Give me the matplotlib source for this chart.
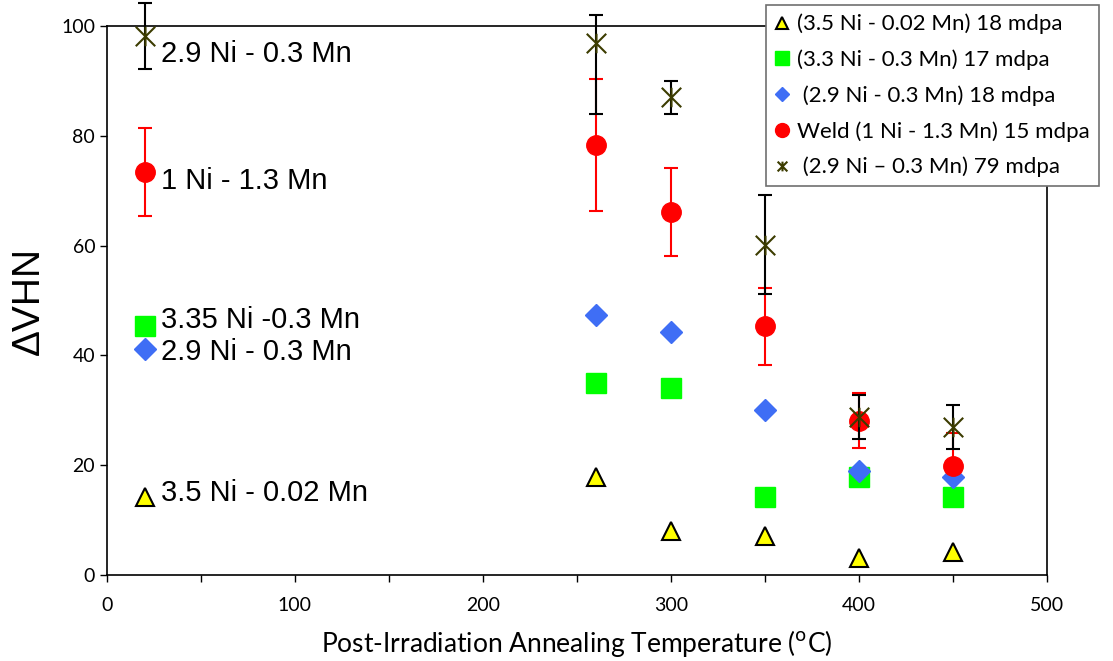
import matplotlib.pyplot as plt
from matplotlib.lines import Line2D
from matplotlib.path import Path
from matplotlib.ticker import MultipleLocator

# annealing temperatures (C); 20 = as-irradiated
temps = [20, 260, 300, 350, 400, 450]

ni35_mn002 = [14.2, 17.9, 8.0, 7.1, 3.1, 4.2]
ni33_mn03 = [45.4, 35.0, 34.1, 14.2, 17.9, 14.2]
ni29_mn03 = [41.2, 47.4, 44.3, 30.1, 19.0, 17.9]
weld = [73.4, 78.3, 66.2, 45.3, 28.1, 19.9]
weld_err = [8, 12, 8, 7, 5, 6]
ni29_79 = [98.2, 97.0, 87.0, 60.2, 28.8, 27.0]
ni29_79_err_lo = [6, 13, 3, 9, 4, 4]
ni29_79_err_hi = [6, 5, 3, 9, 4, 4]

legend_labels = [
    '(3.5 Ni - 0.02 Mn) 18 mdpa',
    '(3.3 Ni - 0.3 Mn) 17 mdpa',
    ' (2.9 Ni - 0.3 Mn) 18 mdpa',
    'Weld (1 Ni - 1.3 Mn) 15 mdpa',
    ' (2.9 Ni \u2013 0.3 Mn) 79 mdpa',
]
side_labels = ['2.9 Ni - 0.3 Mn', '1 Ni - 1.3 Mn', '3.35 Ni -0.3 Mn',
               '2.9 Ni - 0.3 Mn', '3.5 Ni - 0.02 Mn']
side_label_y = [94.9, 71.7, 46.5, 40.7, 15.0]

# excel style star: an x with a vertical stroke
star = Path([(-1, -1), (1, 1), (-1, 1), (1, -1), (0, -1), (0, 1)],
            [Path.MOVETO, Path.LINETO, Path.MOVETO, Path.LINETO,
             Path.MOVETO, Path.LINETO])
olive = '#3c3c00'

fig = plt.figure(figsize=(11.13, 6.61), dpi=100)
ax = fig.add_axes([0.0961, 0.1301, 0.8446, 0.8305])

# weld error bars sit under the other markers
ax.errorbar(temps, weld, yerr=weld_err, fmt='none', ecolor='red',
            elinewidth=1.5, capsize=5, capthick=1.5, zorder=2)

ax.plot(temps, ni35_mn002, ls='none', marker='^', ms=13, mfc='#ffff00',
        mec='black', mew=1.5, zorder=3)
ax.plot(temps, ni33_mn03, ls='none', marker='s', ms=14, mfc='#00ff00',
        mec='#00ff00', zorder=3)
ax.plot(temps, ni29_mn03, ls='none', marker='D', ms=11, mfc='#3f6ef5',
        mec='#3f6ef5', zorder=3)
ax.plot(temps, weld, ls='none', marker='o', ms=14, mfc='red', mec='red',
        zorder=4)
ax.errorbar(temps, ni29_79, yerr=[ni29_79_err_lo, ni29_79_err_hi], ls='none',
            marker=star, ms=14, mfc='none', mec=olive, mew=1.5,
            ecolor='black', elinewidth=1.5, capsize=5, capthick=1.5,
            zorder=5, clip_on=False)

for txt, y in zip(side_labels, side_label_y):
    ax.text(29, y, txt, fontsize=21, family='Liberation Sans',
            va='center', ha='left')

ax.set_xlim(0, 500)
ax.set_ylim(0, 100)
ax.xaxis.set_major_locator(MultipleLocator(100))
ax.xaxis.set_minor_locator(MultipleLocator(50))
ax.yaxis.set_major_locator(MultipleLocator(20))
ax.tick_params(axis='both', which='both', direction='out', length=5,
               width=1, labelsize=14, top=False, right=False)
ax.tick_params(axis='x', pad=11)
for lab in ax.get_xticklabels() + ax.get_yticklabels():
    lab.set_family('Lato')
for sp in ax.spines.values():
    sp.set_linewidth(1.2)

ax.set_xlabel('Post-Irradiation Annealing Temperature ($^{\\mathrm{o}}$C)',
              family='Lato', fontsize=19, labelpad=10)
ax.set_ylabel('\u0394VHN', family='Liberation Sans', fontsize=28, labelpad=10)

handles = [
    Line2D([], [], ls='none', marker='^', ms=8, mfc='#ffff00', mec='black', mew=1.5),
    Line2D([], [], ls='none', marker='s', ms=10, mfc='#00ff00', mec='#00ff00'),
    Line2D([], [], ls='none', marker='D', ms=7, mfc='#3f6ef5', mec='#3f6ef5'),
    Line2D([], [], ls='none', marker='o', ms=10, mfc='red', mec='red'),
    Line2D([], [], ls='none', marker=star, ms=7, mfc='none', mec=olive, mew=1.5),
]
leg = fig.legend(handles, legend_labels, loc='upper left',
                 bbox_to_anchor=(766 / 1113, 1 - 5 / 661),
                 prop={'family': 'Lato', 'size': 16}, frameon=True,
                 fancybox=False, edgecolor='#707070', framealpha=1,
                 handlelength=0.6, handletextpad=0.4, borderpad=0.4,
                 labelspacing=0.68, borderaxespad=0)
leg.get_frame().set_linewidth(1.2)

fig.savefig('out.png', dpi=100)
